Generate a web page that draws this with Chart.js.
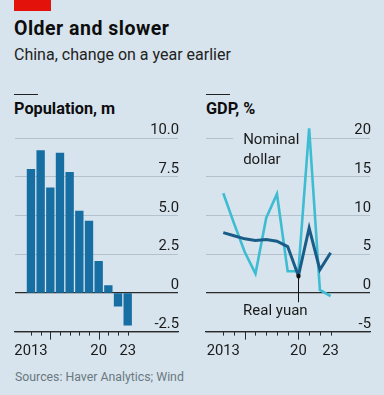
<!DOCTYPE html>
<html>
<head>
<meta charset="utf-8">
<script src="https://cdn.jsdelivr.net/npm/chart.js@4"></script>
<style>
  html, body { margin:0; padding:0; }
  body { width:384px; height:395px; background:#d7e4ed; position:relative; overflow:hidden; font-family: Roboto, "Open Sans", sans-serif; color:#0d0d0d; }
  .abs { position:absolute; white-space:nowrap; }
  #redbar { left:14px; top:0; width:37px; height:11px; background:#e3120b; }
  #title { left:14px; top:18px; font-size:19.5px; font-weight:700; line-height:22px; letter-spacing:0.5px; }
  #subtitle { left:14px; top:44.5px; font-size:16px; line-height:19px; color:#222; }
  .dash { height:1.3px; width:24px; background:#222; top:94px; }
  .ptitle { top:100.4px; font-size:16.3px; font-weight:700; line-height:18px; }
  #source { left:15px; top:368.5px; font-size:12.3px; line-height:16px; color:#6a7880; }
  canvas { position:absolute; }
</style>
</head>
<body>
<div class="abs" id="redbar"></div>
<div class="abs" id="title">Older and slower</div>
<div class="abs" id="subtitle">China, change on a year earlier</div>
<div class="abs dash" style="left:14px"></div>
<div class="abs dash" style="left:206px"></div>
<div class="abs ptitle" style="left:14px">Population, m</div>
<div class="abs ptitle" style="left:206px">GDP, %</div>
<div class="abs" id="source">Sources: Haver Analytics; Wind</div>
<div style="position:absolute;left:0;top:120px;width:192px;height:250px;"><canvas id="c1"></canvas></div>
<div style="position:absolute;left:190px;top:120px;width:194px;height:250px;"><canvas id="c2"></canvas></div>
<script>
// ---- data ----
const years = [2013, 2014, 2015, 2016, 2017, 2018, 2019, 2020, 2021, 2022, 2023];
const populationChange = [8.0, 9.2, 6.8, 9.05, 7.8, 5.3, 4.65, 2.04, 0.48, -0.85, -2.08];
const gdpNominalDollar = [12.9, 9.0, 5.3, 2.5, 9.7, 12.8, 2.8, 2.8, 21.3, 0.4, -0.4];
const gdpRealYuan = [7.8, 7.4, 7.0, 6.8, 6.9, 6.7, 6.0, 2.2, 8.4, 3.0, 5.2];
const popTicks = [-2.5, 0, 2.5, 5, 7.5, 10];
const gdpTicks = [-5, 0, 5, 10, 15, 20];
const xLabelMap = {2013: '2013', 2020: '20', 2023: '23'};

const FONT = 'Roboto, "Open Sans", sans-serif';
const gridCol = '#b3c2cc';
const axisCol = '#2a2a2a';
const barCol = '#176ea3';
const nomCol = '#3ebcd2';
const realCol = '#1a5c88';

Chart.defaults.font.family = FONT;
Chart.defaults.color = '#1a1a1a';

const tickMarks = {
  id: 'tickMarks',
  afterDraw(chart) {
    const ctx = chart.ctx, xs = chart.scales.x, bottom = chart.chartArea.bottom;
    ctx.save();
    ctx.strokeStyle = axisCol;
    ctx.lineWidth = 1;
    years.forEach(y => {
      const px = Math.round(xs.getPixelForValue(y)) + 0.5;
      ctx.beginPath();
      ctx.moveTo(px, bottom);
      ctx.lineTo(px, bottom + (y % 5 === 0 ? 8 : 4));
      ctx.stroke();
    });
    ctx.restore();
  }
};

function xScale(min, max) {
  return {
    type: 'linear', min: min, max: max, offset: false,
    afterBuildTicks: s => { s.ticks = years.map(v => ({value: v})); },
    grid: { display: false, drawTicks: false },
    border: { display: true, color: axisCol, width: 1.2 },
    ticks: {
      autoSkip: false, maxRotation: 0, padding: 10.3,
      font: { size: 14.8 }, color: '#1a1a1a',
      callback: v => xLabelMap[v] || ''
    }
  };
}
function yScale(min, max, tickVals, fmt) {
  return {
    type: 'linear', position: 'right', min: min, max: max,
    afterBuildTicks: s => { s.ticks = tickVals.map(v => ({value: v})); },
    grid: {
      drawTicks: false,
      color: c => (c.tick && (c.tick.value === 0 || c.tick.value === min)) ? axisCol : gridCol,
      lineWidth: c => (c.tick && (c.tick.value === 0 || c.tick.value === min)) ? 1.2 : 1
    },
    border: { display: false },
    ticks: {
      mirror: true, padding: 1, labelOffset: -7.5,
      font: { size: 14.8 }, color: '#1a1a1a',
      callback: fmt
    }
  };
}

const common = {
  responsive: true, maintainAspectRatio: false, animation: false,
  plugins: { legend: { display: false }, tooltip: { enabled: false } },
  events: []
};

const c1 = new Chart(document.getElementById('c1'), {
  type: 'bar',
  data: {
    datasets: [{
      data: years.map((y, i) => ({x: y, y: populationChange[i]})),
      backgroundColor: barCol, barThickness: 7.7, borderWidth: 0
    }]
  },
  options: Object.assign({}, common, {
    layout: { padding: { left: 15, right: 12, top: 18.3, bottom: 0 } },
    scales: {
      x: xScale(2011.35, 2028.2),
      y: yScale(-2.5, 10, popTicks, v => v === 0 ? '0' : v.toFixed(1))
    }
  }),
  plugins: [tickMarks]
});

const annot = {
  id: 'annot',
  beforeDatasetsDraw(chart) {
    const ctx = chart.ctx, xs = chart.scales.x, ys = chart.scales.y;
    ctx.save();
    ctx.font = '15px ' + FONT;
    ctx.textBaseline = 'middle';
    ctx.textAlign = 'left';
    const lx = xs.getPixelForValue(2014.85);
    const rx = xs.getPixelForValue(2020.85);
    ctx.fillStyle = '#d7e4ed';
    ctx.fillRect(lx - 10, ys.getPixelForValue(20) - 3, rx - lx + 10, 6);
    ctx.fillStyle = '#1a1a1a';
    ctx.fillText('Nominal', lx, ys.getPixelForValue(19.7));
    ctx.fillText('dollar', lx, ys.getPixelForValue(17.2));
    ctx.restore();
  },
  afterDatasetsDraw(chart) {
    const ctx = chart.ctx, xs = chart.scales.x, ys = chart.scales.y;
    const i = years.indexOf(2020);
    const px = Math.round(xs.getPixelForValue(2020)) + 0.5;
    const py = ys.getPixelForValue(gdpRealYuan[i]);
    ctx.save();
    ctx.strokeStyle = '#111';
    ctx.lineWidth = 1;
    ctx.beginPath();
    ctx.moveTo(px, py);
    ctx.lineTo(px, ys.getPixelForValue(-1.2));
    ctx.stroke();
    ctx.fillStyle = '#111';
    ctx.beginPath();
    ctx.arc(px, py, 2.2, 0, Math.PI * 2);
    ctx.fill();
    ctx.font = '15px ' + FONT;
    ctx.textAlign = 'center';
    ctx.textBaseline = 'middle';
    ctx.fillStyle = '#1a1a1a';
    ctx.fillText('Real yuan', xs.getPixelForValue(2017.85), ys.getPixelForValue(-2.3));
    ctx.restore();
  }
};

const c2 = new Chart(document.getElementById('c2'), {
  type: 'line',
  data: {
    datasets: [
      { data: years.map((y, i) => ({x: y, y: gdpRealYuan[i]})), borderColor: realCol, borderWidth: 3, pointRadius: 0, tension: 0, clip: false, order: 0 },
      { data: years.map((y, i) => ({x: y, y: gdpNominalDollar[i]})), borderColor: nomCol, borderWidth: 2.6, pointRadius: 0, tension: 0, clip: false, order: 1 }
    ]
  },
  options: Object.assign({}, common, {
    layout: { padding: { left: 16, right: 12, top: 18.3, bottom: 0 } },
    scales: {
      x: xScale(2011.39, 2026.67),
      y: yScale(-5, 20, gdpTicks, v => String(v))
    }
  }),
  plugins: [tickMarks, annot]
});
</script>
</body>
</html>
